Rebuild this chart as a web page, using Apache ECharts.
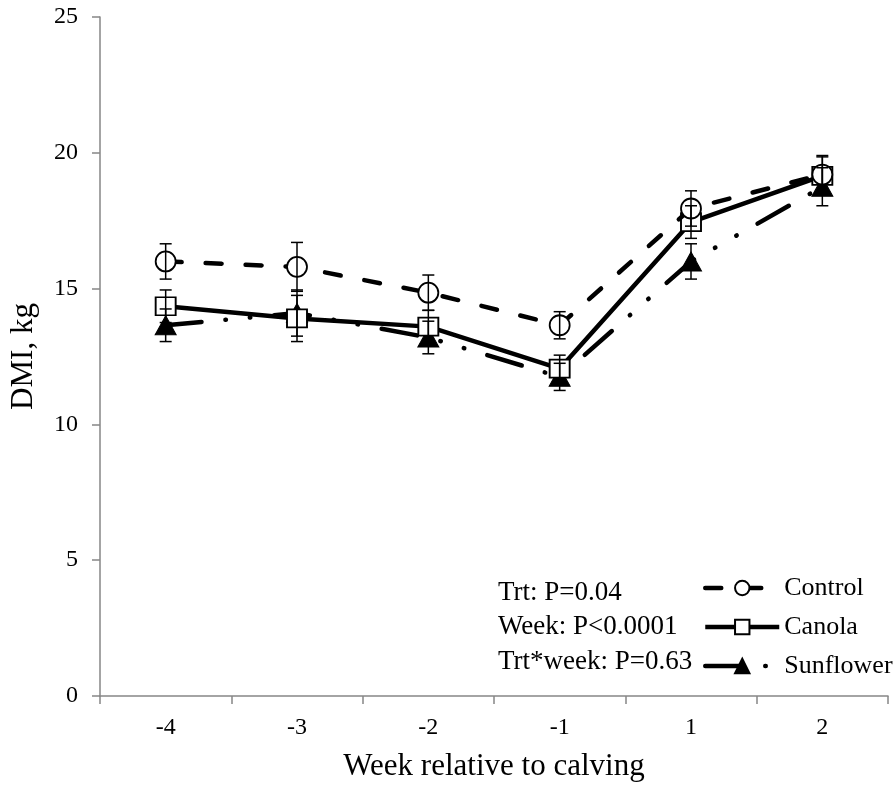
<!DOCTYPE html>
<html>
<head>
<meta charset="utf-8">
<script src="https://cdn.jsdelivr.net/npm/echarts@6/dist/echarts.min.js"></script>
<style>html,body{margin:0;padding:0;background:#fff;}#chart{width:896px;height:789px;}</style>
</head>
<body>
<div id="chart"></div>
<script>
const weeks = ['-4', '-3', '-2', '-1', '1', '2'];
const control = [16.0, 15.8, 14.85, 13.65, 17.95, 19.2];
const controlSE = [0.65, 0.9, 0.65, 0.5, 0.65, 0.7];
const canola = [14.35, 13.9, 13.6, 12.05, 17.45, 19.15];
const canolaSE = [0.6, 0.85, 0.6, 0.5, 0.6, 0.7];
const sunflower = [13.65, 14.1, 13.2, 11.75, 16.0, 18.75];
const sunflowerSE = [0.6, 0.85, 0.6, 0.5, 0.65, 0.7];
const yTicks = [0, 5, 10, 15, 20, 25];
const notes = ['Trt: P=0.04', 'Week: P<0.0001', 'Trt*week: P=0.63'];

const FONT = "'Liberation Serif', 'Times New Roman', serif";

function errData(vals, se) {
  return vals.map((v, i) => [i, v - se[i], v + se[i]]);
}
function errSeries(vals, se, z) {
  return {
    type: 'custom',
    z: z,
    silent: true,
    data: errData(vals, se),
    renderItem: function (params, api) {
      const lo = api.coord([api.value(0), api.value(1)]);
      const hi = api.coord([api.value(0), api.value(2)]);
      const hw = 6;
      const st = { stroke: '#000', lineWidth: 1.5 };
      return {
        type: 'group',
        children: [
          { type: 'line', shape: { x1: lo[0], y1: lo[1], x2: hi[0], y2: hi[1] }, style: st },
          { type: 'line', shape: { x1: lo[0] - hw, y1: lo[1], x2: lo[0] + hw, y2: lo[1] }, style: st },
          { type: 'line', shape: { x1: hi[0] - hw, y1: hi[1], x2: hi[0] + hw, y2: hi[1] }, style: st }
        ]
      };
    }
  };
}

const chart = echarts.init(document.getElementById('chart'));
chart.setOption({
  animation: false,
  backgroundColor: '#fff',
  grid: { left: 100, right: 8, top: 17, bottom: 93, containLabel: false },
  xAxis: {
    type: 'category',
    data: weeks,
    boundaryGap: true,
    name: 'Week relative to calving',
    nameLocation: 'middle',
    nameGap: 55,
    nameTextStyle: { fontFamily: FONT, fontSize: 31, color: '#000' },
    axisLine: { lineStyle: { color: '#868686', width: 1.5 } },
    axisTick: { show: true, inside: false, length: 8, alignWithLabel: false, lineStyle: { color: '#868686', width: 1.5 } },
    axisLabel: { fontFamily: FONT, fontSize: 24, color: '#000', margin: 20 },
    splitLine: { show: false }
  },
  yAxis: {
    type: 'value',
    min: yTicks[0],
    max: yTicks[yTicks.length - 1],
    interval: 5,
    name: 'DMI, kg',
    nameLocation: 'middle',
    nameGap: 61,
    nameTextStyle: { fontFamily: FONT, fontSize: 31, color: '#000' },
    axisLine: { show: true, lineStyle: { color: '#868686', width: 1.5 } },
    axisTick: { show: true, inside: false, length: 8, lineStyle: { color: '#868686', width: 1.5 } },
    axisLabel: { fontFamily: FONT, fontSize: 24, color: '#000', margin: 22 },
    splitLine: { show: false }
  },
  legend: {
    orient: 'vertical',
    left: 698,
    top: 570,
    itemWidth: 74,
    itemHeight: 18,
    itemGap: 13,
    lineStyle: { width: 4.5 },
    textStyle: { fontFamily: FONT, fontSize: 26, color: '#000' },
    data: ['Control', 'Canola', 'Sunflower']
  },
  graphic: notes.map((t, i) => ({
    type: 'text',
    left: 498,
    top: 579 + i * 34.5,
    style: { text: t, font: "27px 'Liberation Serif', 'Times New Roman', serif", fill: '#000' }
  })),
  series: [
    {
      name: 'Sunflower', type: 'line', data: sunflower, z: 2,
      symbol: 'triangle', symbolSize: [21, 19],
      itemStyle: { color: '#000', borderColor: '#000', borderWidth: 1 },
      lineStyle: { color: '#000', width: 4.5, type: [36, 24, 0.5, 24, 0.5, 24], cap: 'round' }
    },
    {
      name: 'Canola', type: 'line', data: canola, z: 3,
      symbol: 'rect', symbolSize: [20, 18],
      itemStyle: { color: '#fff', borderColor: '#000', borderWidth: 1.8 },
      lineStyle: { color: '#000', width: 4.5, type: 'solid' }
    },
    {
      name: 'Control', type: 'line', data: control, z: 4,
      symbol: 'circle', symbolSize: 20,
      itemStyle: { color: '#fff', borderColor: '#000', borderWidth: 1.8 },
      lineStyle: { color: '#000', width: 4.5, type: [16, 24], cap: 'round' }
    },
    errSeries(sunflower, sunflowerSE, 5),
    errSeries(canola, canolaSE, 5),
    errSeries(control, controlSE, 5)
  ]
});
</script>
</body>
</html>
